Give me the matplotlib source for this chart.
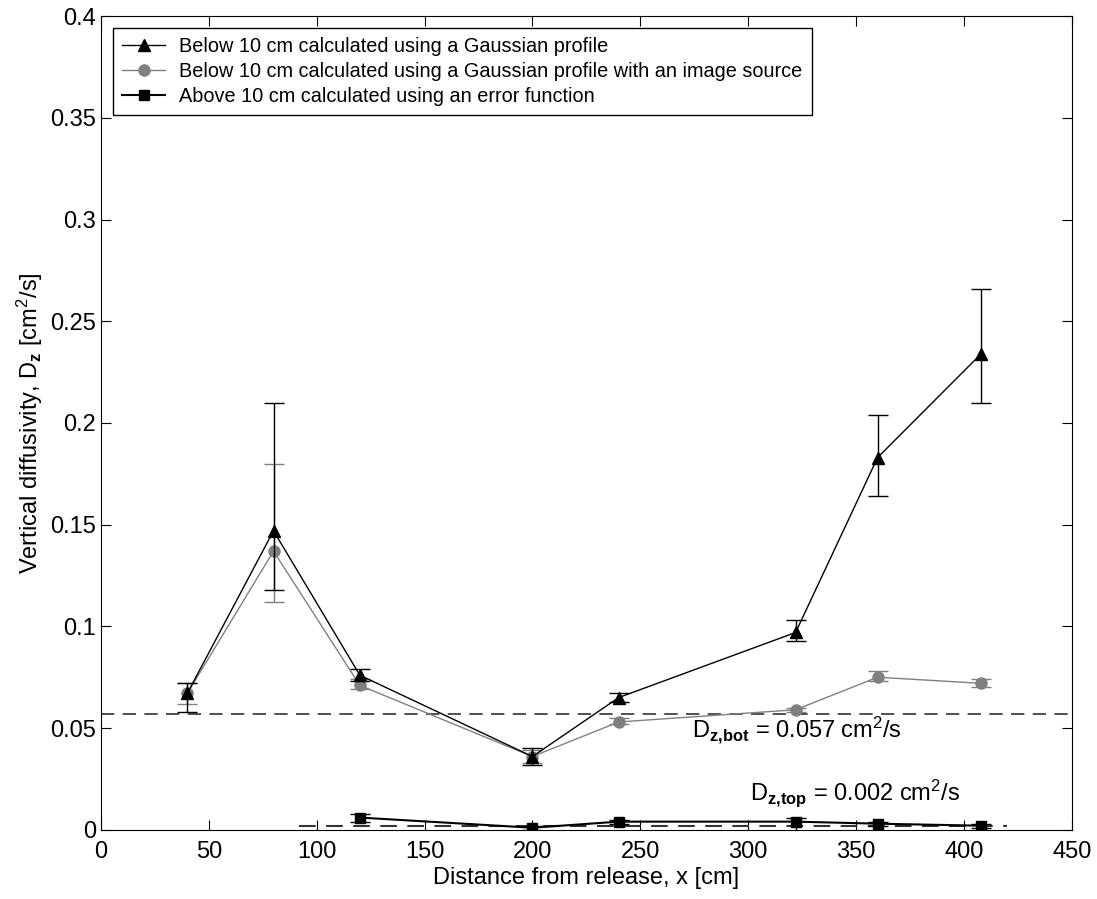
import numpy as np
import matplotlib
matplotlib.use('Agg')
import matplotlib.pyplot as plt
from matplotlib.lines import Line2D

plt.rcParams['font.family'] = ['Liberation Sans', 'DejaVu Sans']
plt.rcParams['mathtext.fontset'] = 'custom'
plt.rcParams['mathtext.rm'] = 'Liberation Sans'
plt.rcParams['mathtext.bf'] = 'Liberation Sans:bold'

# Below 10 cm, Gaussian profile
x_gauss = [40, 80, 120, 200, 240, 322, 360, 408]
d_gauss = [0.067, 0.147, 0.076, 0.036, 0.065, 0.097, 0.183, 0.234]
lo_gauss = [0.058, 0.118, 0.073, 0.032, 0.063, 0.093, 0.164, 0.210]
hi_gauss = [0.072, 0.210, 0.079, 0.040, 0.067, 0.103, 0.204, 0.266]

# Below 10 cm, Gaussian profile with image source
x_image = [40, 80, 120, 200, 240, 322, 360, 408]
d_image = [0.067, 0.137, 0.071, 0.036, 0.053, 0.059, 0.075, 0.072]
lo_image = [0.062, 0.112, 0.069, 0.033, 0.052, 0.058, 0.073, 0.070]
hi_image = [0.072, 0.180, 0.074, 0.039, 0.055, 0.060, 0.078, 0.074]

# Above 10 cm, error function
x_erf = [120, 200, 240, 322, 360, 408]
d_erf = [0.006, 0.001, 0.004, 0.004, 0.003, 0.002]
lo_erf = [0.004, 0.000, 0.003, -0.001, 0.002, 0.001]
hi_erf = [0.008, 0.002, 0.005, 0.006, 0.004, 0.003]

labels = ['Below 10 cm calculated using a Gaussian profile',
          'Below 10 cm calculated using a Gaussian profile with an image source',
          'Above 10 cm calculated using an error function']

dz_bot = 0.057
dz_top = 0.002

fig = plt.figure(figsize=(10.97, 8.99), dpi=100)
ax = fig.add_axes([0.092, 0.077, 0.885, 0.905])

def err(d, lo, hi):
    d = np.array(d)
    return [d - np.array(lo), np.array(hi) - d]

ax.errorbar(x_gauss, d_gauss, yerr=err(d_gauss, lo_gauss, hi_gauss), color='black',
            marker='^', ms=9, lw=1, elinewidth=1, capsize=7, linestyle='-', zorder=3)
ax.errorbar(x_image, d_image, yerr=err(d_image, lo_image, hi_image), color='#808080',
            marker='o', ms=8, lw=1, elinewidth=1, capsize=7, linestyle='-', zorder=2)
ax.errorbar(x_erf, d_erf, yerr=err(d_erf, lo_erf, hi_erf), color='black',
            marker='s', ms=7, lw=1.5, elinewidth=1, capsize=7, linestyle='-', zorder=3)

ax.plot([0, 450], [dz_bot, dz_bot], '--', color='#333333', lw=1.2, dashes=(8, 5))
ax.plot([92, 420], [dz_top, dz_top], '--', color='#333333', lw=1.5, dashes=(8, 5))

ax.text(274, 0.0455, r'D$\mathregular{_{\mathbf{z{,}bot}}}$ = 0.057 cm$\mathregular{^2}$/s',
        fontsize=17, va='baseline')
ax.text(301, 0.0145, r'D$\mathregular{_{\mathbf{z{,}top}}}$ = 0.002 cm$\mathregular{^2}$/s',
        fontsize=17, va='baseline')

ax.set_xlim(0, 450)
ax.set_ylim(0, 0.4)
ax.set_xticks(np.arange(0, 451, 50))
ax.set_yticks(np.arange(0, 0.41, 0.05))
ax.set_yticklabels(['0', '0.05', '0.1', '0.15', '0.2', '0.25', '0.3', '0.35', '0.4'])
ax.tick_params(direction='in', top=True, right=True, labelsize=17, length=7)
ax.tick_params(axis='x', pad=8)
ax.set_xlabel('Distance from release, x [cm]', fontsize=17, labelpad=3)
ax.set_ylabel(r'Vertical diffusivity, D$\mathregular{_{\mathbf{z}}}$ [cm$\mathregular{^2}$/s]', fontsize=17)

handles = [Line2D([], [], color='black', marker='^', ms=8, lw=1),
           Line2D([], [], color='#808080', marker='o', ms=8, lw=1),
           Line2D([], [], color='black', marker='s', ms=7, lw=1.5)]
leg = ax.legend(handles, labels, loc='upper left', fontsize=14.3, frameon=True, fancybox=False,
                edgecolor='black', borderaxespad=0.6, handlelength=2.2,
                labelspacing=0.3, borderpad=0.45, handletextpad=0.7, framealpha=1)
leg.get_frame().set_linewidth(1)

fig.savefig('out.png', dpi=100)
